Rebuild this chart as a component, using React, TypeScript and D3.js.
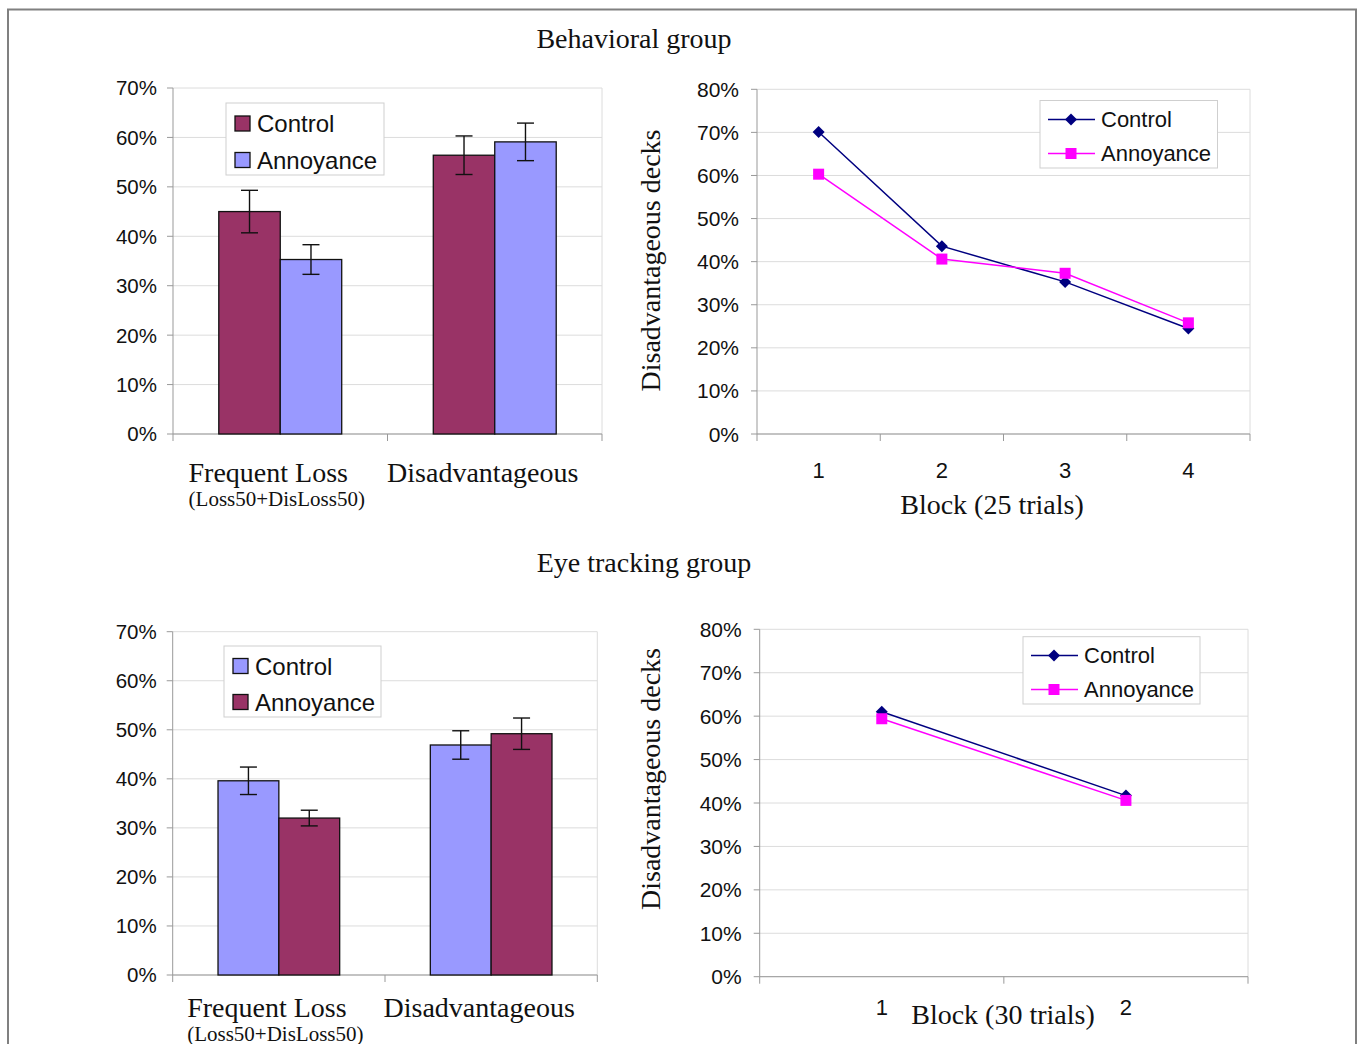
import React from "react";
import * as d3 from "d3";

// ---------- DATA ----------
const barCategories = ["Frequent Loss", "Disadvantageous"];
const barSubLabels = ["(Loss50+DisLoss50)", ""];
const barSeries = ["Control", "Annoyance"];
const barTicks = [0, 10, 20, 30, 40, 50, 60, 70];

const behavBarControl = [45.0, 56.4];
const behavBarControlErr = [4.3, 3.9];
const behavBarAnnoy = [35.3, 59.1];
const behavBarAnnoyErr = [3.0, 3.8];

const eyeBarControl = [39.6, 46.9];
const eyeBarControlErr = [2.8, 2.9];
const eyeBarAnnoy = [32.0, 49.2];
const eyeBarAnnoyErr = [1.6, 3.2];

const lineTicks = [0, 10, 20, 30, 40, 50, 60, 70, 80];
const behavBlocks = ["1", "2", "3", "4"];
const behavLineControl = [70.1, 43.6, 35.3, 24.5];
const behavLineAnnoy = [60.3, 40.6, 37.3, 25.8];

const eyeBlocks = ["1", "2"];
const eyeLineControl = [61.0, 41.7];
const eyeLineAnnoy = [59.4, 40.6];

// ---------- STYLE ----------
const MAROON = "#993366";
const PERI = "#9999FF";
const NAVY = "#000080";
const MAGENTA = "#FF00FF";
const GRID = "#dcdcdc";
const AXIS = "#999999";
const SANS = "Arial, 'Liberation Sans', sans-serif";
const SERIF = "'Times New Roman', 'Liberation Serif', serif";

type BarProps = {
  left: number; right: number; top: number; bottom: number;
  control: number[]; controlErr: number[]; annoy: number[]; annoyErr: number[];
  colors: string[];
  legend: { x0: number; y0: number; x1: number; y1: number; rows: number[] };
  labelBase: number; subBase: number;
};

function BarChart(p: BarProps) {
  const y = d3.scaleLinear().domain([0, 70]).range([p.bottom, p.top]);
  const x = d3.scaleBand().domain(barCategories).range([p.left, p.right]).paddingInner(0).paddingOuter(0);
  const inner = d3.scaleBand().domain(barSeries).range([0, x.bandwidth()]).paddingInner(0).paddingOuter(0.745);
  const vals = [p.control, p.annoy];
  const errs = [p.controlErr, p.annoyErr];
  const bounds = [p.left, ...barCategories.map((c) => (x(c) as number) + x.bandwidth())];
  return (
    <g>
      {barTicks.map((t) => (
        <line key={"g" + t} x1={p.left} x2={p.right} y1={y(t)} y2={y(t)} stroke={GRID} strokeWidth={1} />
      ))}
      <line x1={p.right} x2={p.right} y1={p.top} y2={p.bottom} stroke={GRID} strokeWidth={1} />
      <line x1={p.left} x2={p.left} y1={p.top} y2={p.bottom} stroke={AXIS} strokeWidth={1} />
      <line x1={p.left} x2={p.right} y1={p.bottom} y2={p.bottom} stroke={AXIS} strokeWidth={1} />
      {barTicks.map((t) => (
        <g key={"t" + t}>
          <line x1={p.left - 6} x2={p.left} y1={y(t)} y2={y(t)} stroke={AXIS} />
          <text x={p.left - 16} y={y(t)} dy="0.36em" textAnchor="end" fontFamily={SANS} fontSize={20.5} fill="#111">
            {t + "%"}
          </text>
        </g>
      ))}
      {bounds.map((b, i) => (
        <line key={"xt" + i} x1={b} x2={b} y1={p.bottom} y2={p.bottom + 7} stroke={AXIS} />
      ))}
      {barCategories.map((c, ci) =>
        barSeries.map((s, si) => {
          const bx = (x(c) as number) + (inner(s) as number);
          const v = vals[si][ci];
          const e = errs[si][ci];
          const cx = bx + inner.bandwidth() / 2;
          return (
            <g key={c + s}>
              <rect x={bx} y={y(v)} width={inner.bandwidth()} height={p.bottom - y(v)} fill={p.colors[si]} stroke="#111" strokeWidth={1.3} />
              <line x1={cx} x2={cx} y1={y(v + e)} y2={y(v - e)} stroke="#111" strokeWidth={1.4} />
              <line x1={cx - 8.5} x2={cx + 8.5} y1={y(v + e)} y2={y(v + e)} stroke="#111" strokeWidth={1.4} />
              <line x1={cx - 8.5} x2={cx + 8.5} y1={y(v - e)} y2={y(v - e)} stroke="#111" strokeWidth={1.4} />
            </g>
          );
        })
      )}
      {barCategories.map((c, ci) => {
        const cx = (x(c) as number) + x.bandwidth() / 2;
        return (
          <g key={"cl" + c}>
            <text x={cx - 12} y={p.labelBase} textAnchor="middle" fontFamily={SERIF} fontSize={28} fill="#111">{c}</text>
            {barSubLabels[ci] ? (
              <text x={cx - 3.5} y={p.subBase} textAnchor="middle" fontFamily={SERIF} fontSize={21} fill="#111">{barSubLabels[ci]}</text>
            ) : null}
          </g>
        );
      })}
      <rect x={p.legend.x0} y={p.legend.y0} width={p.legend.x1 - p.legend.x0} height={p.legend.y1 - p.legend.y0} fill="#fff" stroke="#cfcfcf" strokeWidth={1} />
      {barSeries.map((s, si) => (
        <g key={"lg" + s}>
          <rect x={p.legend.x0 + 9} y={p.legend.rows[si] - 7.5} width={15} height={15} fill={p.colors[si]} stroke="#111" strokeWidth={1.3} />
          <text x={p.legend.x0 + 31} y={p.legend.rows[si]} dy="0.36em" fontFamily={SANS} fontSize={24} fill="#111">{s}</text>
        </g>
      ))}
    </g>
  );
}

type LineProps = {
  left: number; right: number; top: number; bottom: number;
  blocks: string[]; control: number[]; annoy: number[];
  legend: { x0: number; y0: number; x1: number; y1: number; rows: number[] };
  tickBase: number;
  xLabel: string; xLabelX: number; xLabelBase: number;
  yLabelX: number; yLabelY: number;
};

function Diamond({ cx, cy, r, fill }: { cx: number; cy: number; r: number; fill: string }) {
  return <path d={`M${cx},${cy - r}L${cx + r},${cy}L${cx},${cy + r}L${cx - r},${cy}Z`} fill={fill} />;
}

function LineChart(p: LineProps) {
  const y = d3.scaleLinear().domain([0, 80]).range([p.bottom, p.top]);
  const x = d3.scaleBand().domain(p.blocks).range([p.left, p.right]).paddingInner(0).paddingOuter(0);
  const cx = (b: string) => (x(b) as number) + x.bandwidth() / 2;
  const line = d3.line<number>().x((_, i) => cx(p.blocks[i])).y((v) => y(v));
  const bounds = [p.left, ...p.blocks.map((b) => (x(b) as number) + x.bandwidth())];
  return (
    <g>
      {lineTicks.map((t) => (
        <line key={"g" + t} x1={p.left} x2={p.right} y1={y(t)} y2={y(t)} stroke={GRID} strokeWidth={1} />
      ))}
      <line x1={p.right} x2={p.right} y1={p.top} y2={p.bottom} stroke={GRID} strokeWidth={1} />
      <line x1={p.left} x2={p.left} y1={p.top} y2={p.bottom} stroke={AXIS} strokeWidth={1} />
      <line x1={p.left} x2={p.right} y1={p.bottom} y2={p.bottom} stroke={AXIS} strokeWidth={1} />
      {lineTicks.map((t) => (
        <g key={"t" + t}>
          <line x1={p.left - 6} x2={p.left} y1={y(t)} y2={y(t)} stroke={AXIS} />
          <text x={p.left - 18} y={y(t)} dy="0.36em" textAnchor="end" fontFamily={SANS} fontSize={21} fill="#111">
            {t + "%"}
          </text>
        </g>
      ))}
      {bounds.map((b, i) => (
        <line key={"xt" + i} x1={b} x2={b} y1={p.bottom} y2={p.bottom + 7} stroke={AXIS} />
      ))}
      {p.blocks.map((b) => (
        <text key={"xl" + b} x={cx(b)} y={p.tickBase} textAnchor="middle" fontFamily={SANS} fontSize={22} fill="#111">{b}</text>
      ))}
      <text x={p.xLabelX} y={p.xLabelBase} textAnchor="middle" fontFamily={SERIF} fontSize={28} fill="#111">{p.xLabel}</text>
      <text transform={`translate(${p.yLabelX},${p.yLabelY}) rotate(-90)`} textAnchor="middle" dy="0.3em" fontFamily={SERIF} fontSize={28} fill="#111">
        Disadvantageous decks
      </text>
      <path d={line(p.control) || ""} fill="none" stroke={NAVY} strokeWidth={1.5} />
      <path d={line(p.annoy) || ""} fill="none" stroke={MAGENTA} strokeWidth={1.5} />
      {p.control.map((v, i) => (
        <Diamond key={"cd" + i} cx={cx(p.blocks[i])} cy={y(v)} r={6} fill={NAVY} />
      ))}
      {p.annoy.map((v, i) => (
        <rect key={"as" + i} x={cx(p.blocks[i]) - 5.5} y={y(v) - 5.5} width={11} height={11} fill={MAGENTA} />
      ))}
      <rect x={p.legend.x0} y={p.legend.y0} width={p.legend.x1 - p.legend.x0} height={p.legend.y1 - p.legend.y0} fill="#fff" stroke="#cfcfcf" strokeWidth={1} />
      <line x1={p.legend.x0 + 8} x2={p.legend.x0 + 55} y1={p.legend.rows[0]} y2={p.legend.rows[0]} stroke={NAVY} strokeWidth={1.5} />
      <Diamond cx={p.legend.x0 + 31} cy={p.legend.rows[0]} r={6} fill={NAVY} />
      <text x={p.legend.x0 + 61} y={p.legend.rows[0]} dy="0.36em" fontFamily={SANS} fontSize={22} fill="#111">Control</text>
      <line x1={p.legend.x0 + 8} x2={p.legend.x0 + 55} y1={p.legend.rows[1]} y2={p.legend.rows[1]} stroke={MAGENTA} strokeWidth={1.5} />
      <rect x={p.legend.x0 + 25.5} y={p.legend.rows[1] - 5.5} width={11} height={11} fill={MAGENTA} />
      <text x={p.legend.x0 + 61} y={p.legend.rows[1]} dy="0.36em" fontFamily={SANS} fontSize={22} fill="#111">Annoyance</text>
    </g>
  );
}

export default function App() {
  return (
    <svg width={1360} height={1044} style={{ position: "absolute", left: 0, top: 0, display: "block", background: "#fff" }}>
      <rect x={0} y={0} width={1360} height={1044} fill="#fff" />
      <path d="M8,1060 L8,9.5 L1356,9.5 L1356,1060" fill="none" stroke="#808080" strokeWidth={2} />
      <text x={634} y={48} textAnchor="middle" fontFamily={SERIF} fontSize={28} fill="#111">Behavioral group</text>
      <text x={644} y={572} textAnchor="middle" fontFamily={SERIF} fontSize={28} fill="#111">Eye tracking group</text>
      <BarChart
        left={173} right={602} top={88} bottom={434}
        control={behavBarControl} controlErr={behavBarControlErr}
        annoy={behavBarAnnoy} annoyErr={behavBarAnnoyErr}
        colors={[MAROON, PERI]}
        legend={{ x0: 226, y0: 103, x1: 384, y1: 175, rows: [123.5, 160] }}
        labelBase={482} subBase={506}
      />
      <BarChart
        left={172.7} right={597.3} top={631.7} bottom={975}
        control={eyeBarControl} controlErr={eyeBarControlErr}
        annoy={eyeBarAnnoy} annoyErr={eyeBarAnnoyErr}
        colors={[PERI, MAROON]}
        legend={{ x0: 224, y0: 646, x1: 381, y1: 717, rows: [666, 702] }}
        labelBase={1017} subBase={1041}
      />
      <LineChart
        left={757} right={1250} top={89.3} bottom={434}
        blocks={behavBlocks} control={behavLineControl} annoy={behavLineAnnoy}
        legend={{ x0: 1040, y0: 100.5, x1: 1217.5, y1: 168, rows: [119.5, 153.5] }}
        tickBase={478} xLabel="Block (25 trials)" xLabelX={992} xLabelBase={514}
        yLabelX={652} yLabelY={260.5}
      />
      <LineChart
        left={759.7} right={1248} top={629.3} bottom={976.7}
        blocks={eyeBlocks} control={eyeLineControl} annoy={eyeLineAnnoy}
        legend={{ x0: 1023, y0: 636.7, x1: 1200, y1: 704, rows: [655.5, 689.5] }}
        tickBase={1015} xLabel="Block (30 trials)" xLabelX={1003} xLabelBase={1024}
        yLabelX={652} yLabelY={779}
      />
    </svg>
  );
}
